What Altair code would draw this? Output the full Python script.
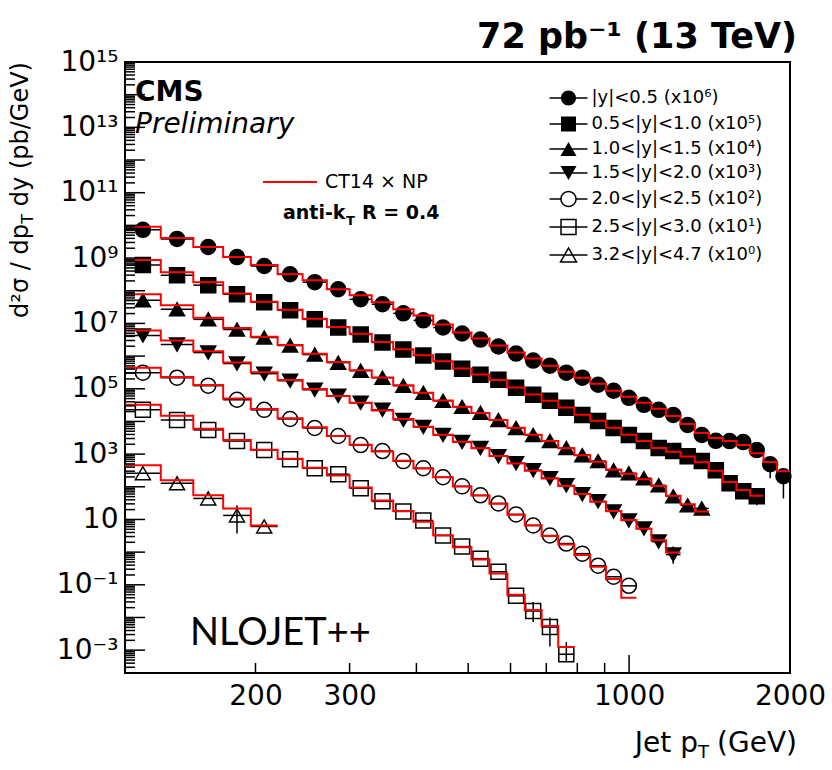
import altair as alt
import pandas as pd
import numpy as np

# ---------------- data ----------------
pt_edges = [114, 133, 153, 174, 196, 220, 245, 272, 300, 330, 362, 395, 430, 468, 507,
            548, 592, 638, 686, 737, 790, 846, 905, 967, 1032, 1101, 1172, 1248, 1327,
            1410, 1497, 1588, 1684, 1784, 1890, 2000]

series_labels = ["|y|<0.5 (x10\u2076)", "0.5<|y|<1.0 (x10\u2075)", "1.0<|y|<1.5 (x10\u2074)",
                 "1.5<|y|<2.0 (x10\u00b3)", "2.0<|y|<2.5 (x10\u00b2)", "2.5<|y|<3.0 (x10\u00b9)",
                 "3.2<|y|<4.7 (x10\u2070)"]
scale_exp = [6, 5, 4, 3, 2, 1, 0]

# measured cross sections (pb/GeV), unscaled
d0 = [7.3e3, 3.85e3, 2.18e3, 1.07e3, 5.7e2, 3.2e2, 1.83e2, 1.11e2, 54.7, 38.5, 20.3, 12.4, 7.5,
      4.9, 3.2, 1.96, 1.19, 0.73, 0.51, 0.31, 0.218, 0.133, 0.0867, 0.0528, 0.0322, 0.0226,
      0.0158, 7.8e-3, 3.85e-3, 2.55e-3, 2.5e-3, 2.34e-3, 1.33e-3, 4.9e-4, 2.1e-4]
d1 = [6.1e3, 3.0e3, 1.48e3, 7.8e2, 4.43e2, 2.51e2, 1.33e2, 75.3, 45.9, 26.0, 15.8, 10.4, 6.78,
      4.12, 2.70, 1.89, 1.07, 0.653, 0.428, 0.26, 0.158, 0.1035, 0.0631, 0.0385, 0.0251,
      0.0153, 0.01236, 8.67e-3, 6.1e-3, 3.22e-3, 1.28e-3, 7.3e-4, 5.1e-4]
d2 = [5.1e3, 2.7e3, 1.33e3, 6.5e2, 3.7e2, 2.1e2, 1.11e2, 63, 35.8, 21.8, 12.4, 7.5, 4.28, 2.79,
      1.83, 1.11, 0.63, 0.385, 0.251, 0.153, 0.093, 0.061, 0.0322, 0.026, 0.0183, 0.0111,
      5.1e-3, 2.7e-3, 2.18e-3]
d3 = [4.28e3, 2.26e3, 1.28e3, 5.9e2, 2.9e2, 1.76e2, 93, 61, 37, 22.6, 11.1, 6.8, 3.85, 2.34,
      1.53, 0.867, 0.528, 0.322, 0.183, 0.111, 0.0588, 0.0358, 0.0176, 9.3e-3, 5.3e-3,
      2.1e-3, 8.4e-4]
d4 = [3.1e3, 2.18e3, 1.24e3, 4.6e2, 2.26e2, 1.19e2, 63, 35.8, 18.9, 12.4, 6.1, 3.7, 1.96, 1.03,
      0.547, 0.31, 0.143, 0.0653, 0.0322, 0.0183, 9.0e-3, 3.85e-3, 1.76e-3, 9.3e-4]
d5 = [2.26e3, 1.11e3, 5.5e2, 2.51e2, 1.33e2, 70, 37, 24.3, 9.0, 3.58, 1.76, 0.93, 0.322, 0.148,
      0.063, 0.0251, 4.6e-3, 1.58e-3, 5.1e-4, 7.5e-5]
d6 = [2.6e2, 1.28e2, 44, 13.3, 6.1]

# CT14 x NP theory (pb/GeV), unscaled
t0 = [9.0e3, 4.12e3, 2.18e3, 1.07e3, 6.1e2, 3.22e2, 2.1e2, 1.11e2, 72.8, 44.3, 27.0, 17.6, 9.31,
      5.28, 3.45, 2.10, 1.28, 0.838, 0.51, 0.333, 0.218, 0.1426, 0.0867, 0.0568, 0.0371,
      0.0243, 0.01476, 8.4e-3, 4.43e-3, 3.1e-3, 2.5e-3, 1.89e-3, 1.07e-3, 5.7e-4, 3.0e-4]
t1 = [8.7e3, 3.7e3, 1.83e3, 8.2e2, 4.6e2, 2.6e2, 1.4e2, 78, 48, 27, 16.2, 10.6, 6.9, 4.2, 2.75,
      1.85, 1.1, 0.67, 0.43, 0.265, 0.16, 0.105, 0.064, 0.039, 0.025, 0.0155, 0.0118, 8.4e-3,
      5.6e-3, 3.1e-3, 1.4e-3, 8.0e-4, 5.3e-4]
t2 = [7.8e3, 3.58e3, 1.5e3, 7.2e2, 3.9e2, 2.2e2, 1.18e2, 66, 37, 22, 12.8, 7.6, 4.4, 2.8, 1.8,
      1.1, 0.64, 0.39, 0.25, 0.15, 0.092, 0.058, 0.034, 0.025, 0.017, 0.0105, 5.3e-3, 2.9e-3,
      1.76e-3]
t3 = [6.1e3, 3.0e3, 1.4e3, 6.4e2, 3.2e2, 1.85e2, 98, 60, 37, 21.5, 11.8, 6.9, 3.9, 2.4, 1.5,
      0.87, 0.52, 0.31, 0.18, 0.105, 0.06, 0.035, 0.018, 9.6e-3, 5.2e-3, 2.3e-3, 9.7e-4]
t4 = [4.43e3, 2.3e3, 1.3e3, 5.0e2, 2.4e2, 1.25e2, 66, 36, 19.5, 12, 6.3, 3.6, 1.95, 1.02, 0.54,
      0.3, 0.14, 0.066, 0.031, 0.017, 8.2e-3, 3.6e-3, 1.5e-3, 4.0e-4]
t5 = [3.22e3, 1.48e3, 6.0e2, 2.7e2, 1.35e2, 72, 38, 22, 9.5, 3.8, 1.8, 0.85, 0.33, 0.14, 0.06,
      0.022, 5.0e-3, 1.7e-3, 5.5e-4, 1.24e-4]
t6 = [4.6e2, 1.58e2, 54.7, 21.8, 6.5]

data_vals = [d0, d1, d2, d3, d4, d5, d6]
theory_vals = [t0, t1, t2, t3, t4, t5, t6]

# visible vertical error bars: (series index, bin index, low, high), unscaled
err_bars = [(0, 33, 1.83e-4, 8.7e-4), (0, 34, 4.4e-5, 3.0e-4), (1, 32, 2.7e-4, 9.0e-4),
            (3, 26, 4.4e-4, 1.48e-3), (5, 17, 7.3e-4, 3.0e-3), (5, 18, 1.3e-4, 1.0e-3),
            (5, 19, 4.3e-5, 1.76e-4), (6, 3, 3.7, 27)]

x_tick_labels = [200, 300, 1000, 2000]
y_label_exps = [15, 13, 11, 9, 7, 5, 3, 1, -1, -3]

# ---------------- tables ----------------
pts, steps = [], []
for s, (lab, e) in enumerate(zip(series_labels, scale_exp)):
    f = 10.0 ** e
    for i, v in enumerate(data_vals[s]):
        lo, hi = pt_edges[i], pt_edges[i + 1]
        pts.append(dict(series=lab, lo=lo, hi=hi, xc=float(np.sqrt(lo * hi)), val=v * f))
    k = 0
    for i, v in enumerate(theory_vals[s]):
        lo, hi = pt_edges[i], pt_edges[i + 1]
        steps.append(dict(series=lab, px=lo, val=v * f, idx=k)); k += 1
        steps.append(dict(series=lab, px=hi, val=v * f, idx=k)); k += 1
pts = pd.DataFrame(pts)
steps = pd.DataFrame(steps)

errs = []
for s, i, lo, hi in err_bars:
    f = 10.0 ** scale_exp[s]
    errs.append(dict(xc=float(np.sqrt(pt_edges[i] * pt_edges[i + 1])), lo=lo * f, hi=hi * f))
errs = pd.DataFrame(errs)

y_major = [10.0 ** n for n in range(-3, 15)]
y_minor = [k * 10.0 ** n for n in range(-4, 15) for k in range(2, 10)
           if 2e-4 <= k * 10.0 ** n < 1e15]
x_minor = [200, 300, 400, 500, 600, 700, 800, 900]
x_major = [1000]

sup = str.maketrans("-0123456789", "\u207b\u2070\u00b9\u00b2\u00b3\u2074\u2075\u2076\u2077\u2078\u2079")
def ylab(e):
    return "10" if e == 1 else "10" + str(e).translate(sup)
cond = "round(log(datum.value)/LN10)"
ylabel_expr = " : ".join(f"{cond}=={e} ? '{ylab(e)}'" for e in y_label_exps) + " : ''"

# ---------------- scales ----------------
W, H = 665, 611
xscale = alt.Scale(type="log", domain=[114, 2000], nice=False)
yscale = alt.Scale(type="log", domain=[2e-4, 1e15], nice=False)
FONT = "DejaVu Sans"

xaxis = alt.Axis(values=x_tick_labels, format="d", title=None, ticks=False, domain=False,
                 grid=False, labelFont=FONT, labelFontSize=28, labelColor="black",
                 labelPadding=9, labelFlush=False, labelOverlap=False)
yaxis = alt.Axis(values=[10.0 ** e for e in y_label_exps], labelExpr=ylabel_expr, title=None,
                 ticks=False, domain=False, grid=False, labelFont=FONT, labelFontSize=28,
                 labelColor="black", labelPadding=7, labelFlush=False, labelOverlap=False)

X = lambda f: alt.X(f, scale=xscale, axis=xaxis)
Y = lambda f: alt.Y(f, scale=yscale, axis=yaxis)

shapes_plot = ["circle", "square", "triangle-up", "triangle-down", "circle", "square", "triangle-up"]
fills = ["black"] * 4 + ["transparent"] * 3

xbars = alt.Chart(pts).mark_rule(color="black", strokeWidth=1.5).encode(
    x=X("lo:Q"), x2="hi:Q", y=Y("val:Q"))
ybars = alt.Chart(errs).mark_rule(color="black", strokeWidth=1.5).encode(
    x=X("xc:Q"), y=Y("lo:Q"), y2="hi:Q")
points = alt.Chart(pts).mark_point(filled=True, stroke="black", strokeWidth=1.5, size=225,
                                   opacity=1).encode(
    x=X("xc:Q"), y=Y("val:Q"),
    shape=alt.Shape("series:N", scale=alt.Scale(domain=series_labels, range=shapes_plot), legend=None),
    fill=alt.Fill("series:N", scale=alt.Scale(domain=series_labels, range=fills), legend=None))
theory = alt.Chart(steps).mark_line(color="#ff0000", strokeWidth=2).encode(
    x=X("px:Q"), y=Y("val:Q"), detail="series:N", order="idx:Q")

# legend-only layer: symbols drawn as filled outlines (rings) with a horizontal bar
w = 2.53
wing = f"M-{w},-0.1L{w},-0.1L{w},0.1L-{w},0.1Z"
wings_split = f"M-{w},-0.1L-1.05,-0.1L-1.05,0.1L-{w},0.1ZM1.05,-0.1L{w},-0.1L{w},0.1L1.05,0.1Z"
circ_f = "M1,0A1,1,0,1,1,-1,0A1,1,0,1,1,1,0Z"
circ_o = ("M1.1,0A1.1,1.1,0,1,1,-1.1,0A1.1,1.1,0,1,1,1.1,0Z"
          "M0.9,0A0.9,0.9,0,1,0,-0.9,0A0.9,0.9,0,1,0,0.9,0Z")
sq_f = "M-1,-1L1,-1L1,1L-1,1Z"
sq_o = "M-1.1,-1.1L1.1,-1.1L1.1,1.1L-1.1,1.1ZM-0.9,-0.9L-0.9,0.9L0.9,0.9L0.9,-0.9Z"
tu_f = "M0,-0.93L1.07,0.93L-1.07,0.93Z"
td_f = "M0,0.93L-1.07,-0.93L1.07,-0.93Z"
tu_o = "M0,-1.13L1.24,1.03L-1.24,1.03ZM0,-0.73L-0.9,0.83L0.9,0.83Z"
leg_shapes = [wing + circ_f, wing + sq_f, wing + tu_f, wing + td_f,
              wings_split + circ_o, wing + sq_o, wing + tu_o]

leg = alt.Legend(orient="none", legendX=434.5, legendY=27, title=None, labelFont=FONT,
                 labelFontSize=18, labelColor="black", labelOffset=14, rowPadding=4,
                 padding=0, labelLimit=400, symbolSize=225)
legend_layer = alt.Chart(pd.DataFrame({"series": series_labels})).transform_filter(
    "false").mark_point(filled=True, color="black", size=225, opacity=1).encode(
    shape=alt.Shape("series:N", scale=alt.Scale(domain=series_labels, range=leg_shapes), legend=leg))

# inward ticks
def yticks(vals, length):
    return alt.Chart(pd.DataFrame({"v": vals})).mark_rule(color="black", strokeWidth=1.5).encode(
        y=Y("v:Q"), x=alt.value(0), x2=alt.value(length))
def xticks(vals, length):
    return alt.Chart(pd.DataFrame({"v": vals})).mark_rule(color="black", strokeWidth=1.5).encode(
        x=X("v:Q"), y=alt.value(H), y2=alt.value(H - length))

one = pd.DataFrame({"k": [0]})
def txt(s, x, y, size, font=FONT, weight="normal", style="normal", align="left", angle=None,
        baseline="alphabetic", color="black"):
    kw = dict(text=s, font=font, fontSize=size, fontWeight=weight, fontStyle=style,
              align=align, baseline=baseline, color=color)
    if angle is not None:
        kw["angle"] = angle
    return alt.Chart(one).mark_text(**kw).encode(x=alt.value(x), y=alt.value(y))

red_key = alt.Chart(one).mark_rule(color="#ff0000", strokeWidth=2).encode(
    x=alt.value(138), x2=alt.value(192), y=alt.value(120))

texts = [
    txt("72 pb\u207b\u00b9 (13 TeV)", 672, -14, 35, weight="bold", align="right"),
    txt("CMS", 10, 39, 28, weight="bold"),
    txt("Preliminary", 10, 71, 28, style="italic"),
    txt("CT14 \u00d7 NP", 200, 126, 19),
    txt("anti-k", 158, 157, 19, weight="bold"),
    txt("T", 221, 163, 13, weight="bold"),
    txt("R = 0.4", 237, 157, 19, weight="bold"),
    txt("NLOJET++", 65, 583, 38, font="Lato"),
    # x title
    txt("(GeV)", 672, 690, 28, align="right"),
    txt("T", 584, 696, 18, align="right"),
    txt("Jet p", 573, 690, 28, align="right"),
    # y title (rotated)
    txt("dy (pb/GeV)", -97, 0, 24, align="right", angle=270),
    txt("T", -92, 152, 16, align="right", angle=270),
    txt("d\u00b2\u03c3 / dp", -97, 162, 24, align="right", angle=270),
]

layers = [xbars, ybars, points, theory, legend_layer,
          yticks(y_major, 20), yticks(y_minor, 10), xticks(x_minor, 10), xticks(x_major, 18),
          red_key] + texts

chart = alt.layer(*layers).resolve_scale(shape="independent", fill="independent").properties(
    width=W, height=H,
    autosize=alt.AutoSizeParams(type="none"),
    padding={"left": 125, "top": 62, "right": 42, "bottom": 97},
    background="white",
).configure_view(stroke="black", strokeWidth=2)

chart.save("out.html", embed_options={"renderer": "svg", "actions": False})
